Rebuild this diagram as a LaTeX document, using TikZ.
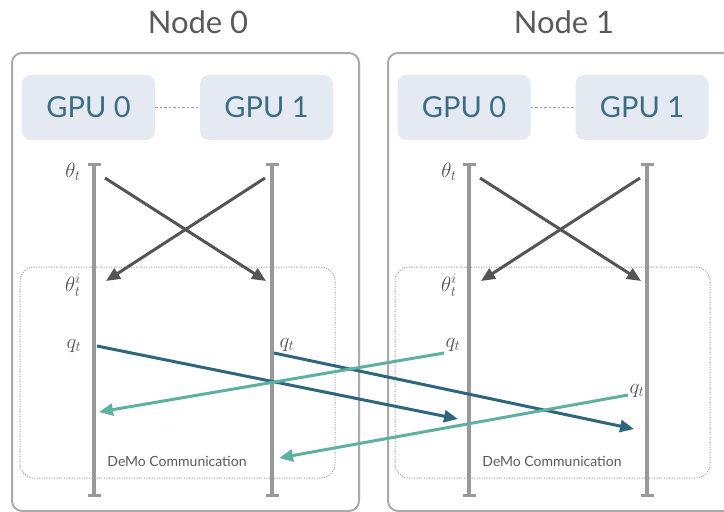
\documentclass[tikz,border=0pt]{standalone}
\usepackage{fix-cm}
\usepackage{fontspec}
\setmainfont{Lato}
\usetikzlibrary{arrows.meta}
\definecolor{boxgray}{HTML}{AAAAAA}
\definecolor{gpufill}{HTML}{E4E9F2}
\definecolor{gputext}{HTML}{3B6E86}
\definecolor{linegray}{HTML}{999999}
\definecolor{arrgray}{HTML}{555555}
\definecolor{blueA}{HTML}{2E6680}
\definecolor{tealA}{HTML}{5FB0A0}
\definecolor{titlegray}{HTML}{5A5A5A}
\tikzset{
  nodebox/.style={draw=boxgray, line width=2pt, rounded corners=10pt},
  gpubox/.style={fill=gpufill, rounded corners=9pt, minimum width=133pt, minimum height=65pt, inner sep=0pt, text=gputext, font=\fontsize{29}{32}\selectfont},
  title/.style={text=titlegray, font=\fontsize{31}{34}\selectfont, inner sep=0pt},
  link/.style={draw=linegray, line width=1.2pt, dash pattern=on 2.5pt off 2pt},
  timeline/.style={draw=linegray, line width=3.2pt, {Bar[width=13pt,line width=2.6pt]}-{Bar[width=13pt,line width=2.6pt]}},
  commbox/.style={draw=linegray, line width=1pt, dash pattern=on 1pt off 1.5pt, rounded corners=14pt},
  xarrow/.style={draw=arrgray, line width=3pt, -{Triangle[length=14pt,width=12pt]}},
  barrow/.style={draw=blueA, line width=3pt, -{Triangle[length=14pt,width=12pt]}},
  tarrow/.style={draw=tealA, line width=3pt, -{Triangle[length=14pt,width=12pt]}},
  mlabel/.style={text=arrgray, font=\fontsize{21}{23}\selectfont, inner sep=1pt},
  commlabel/.style={text=titlegray, font=\fontsize{14}{16}\selectfont, inner sep=0pt}
}
\begin{document}
\begin{tikzpicture}[x=1pt,y=-1pt]
\useasboundingbox (0,0) rectangle (724,512);
% outer node boxes
\draw[nodebox] (12,53) rectangle (359,511);
\draw[nodebox] (388,53) rectangle (745,511);
\node[title] (t0) at (198,22) {Node 0};
\node[title] (t1) at (564,22) {Node 1};
% GPU boxes
\node[gpubox] (a0) at (88.5,107.5) {GPU 0};
\node[gpubox] (a1) at (266.5,107.5) {GPU 1};
\node[gpubox] (b0) at (464,107.5) {GPU 0};
\node[gpubox] (b1) at (642,107.5) {GPU 1};
\draw[link] (a0) -- (a1);
\draw[link] (b0) -- (b1);
% communication boxes
\draw[commbox] (20,267) rectangle (335,478);
\draw[commbox] (395,267) rectangle (710,478);
\node[commlabel] (c0) at (177,461) {DeMo Communication};
\node[commlabel] (c1) at (552,461) {DeMo Communication};
% timelines
\coordinate (l0t) at (94,163); \coordinate (l0b) at (94,497);
\coordinate (l1t) at (272,163); \coordinate (l1b) at (272,497);
\coordinate (m0t) at (469,163); \coordinate (m0b) at (469,497);
\coordinate (m1t) at (647,163); \coordinate (m1b) at (647,497);
\draw[timeline] (l0t) -- (l0b);
\draw[timeline] (l1t) -- (l1b);
\draw[timeline] (m0t) -- (m0b);
\draw[timeline] (m1t) -- (m1b);
% labels
\node[mlabel] (th0) at (73,172) {$\theta_t$};
\node[mlabel] (thi0) at (73,285) {$\theta_t^i$};
\node[mlabel] (q00) at (74,346) {$q_t$};
\node[mlabel] (q01) at (287,345) {$q_t$};
\node[mlabel] (th1) at (449,172) {$\theta_t$};
\node[mlabel] (thi1) at (449,285) {$\theta_t^i$};
\node[mlabel] (q10) at (453,345) {$q_t$};
\node[mlabel] (q11) at (637,391) {$q_t$};
% crossing arrows
\coordinate (x0a) at (105,178); \coordinate (x0b) at (266,281);
\coordinate (x0c) at (265,178); \coordinate (x0d) at (106,281);
\coordinate (x1a) at (480,178); \coordinate (x1b) at (641,281);
\coordinate (x1c) at (640,178); \coordinate (x1d) at (481,281);
\draw[xarrow] (x0a) -- (x0b);
\draw[xarrow] (x0c) -- (x0d);
\draw[xarrow] (x1a) -- (x1b);
\draw[xarrow] (x1c) -- (x1d);
% DeMo communication arrows
\coordinate (s1) at (97,346); \coordinate (e1) at (458,419);
\coordinate (s2) at (274,353); \coordinate (e2) at (634,429);
\coordinate (s3) at (444,353); \coordinate (e3) at (99,412);
\coordinate (s4) at (628,395); \coordinate (e4) at (279,458);
\draw[barrow] (s1) -- (e1);
\draw[barrow] (s2) -- (e2);
\draw[tarrow] (s3) -- (e3);
\draw[tarrow] (s4) -- (e4);
\end{tikzpicture}
\end{document}
